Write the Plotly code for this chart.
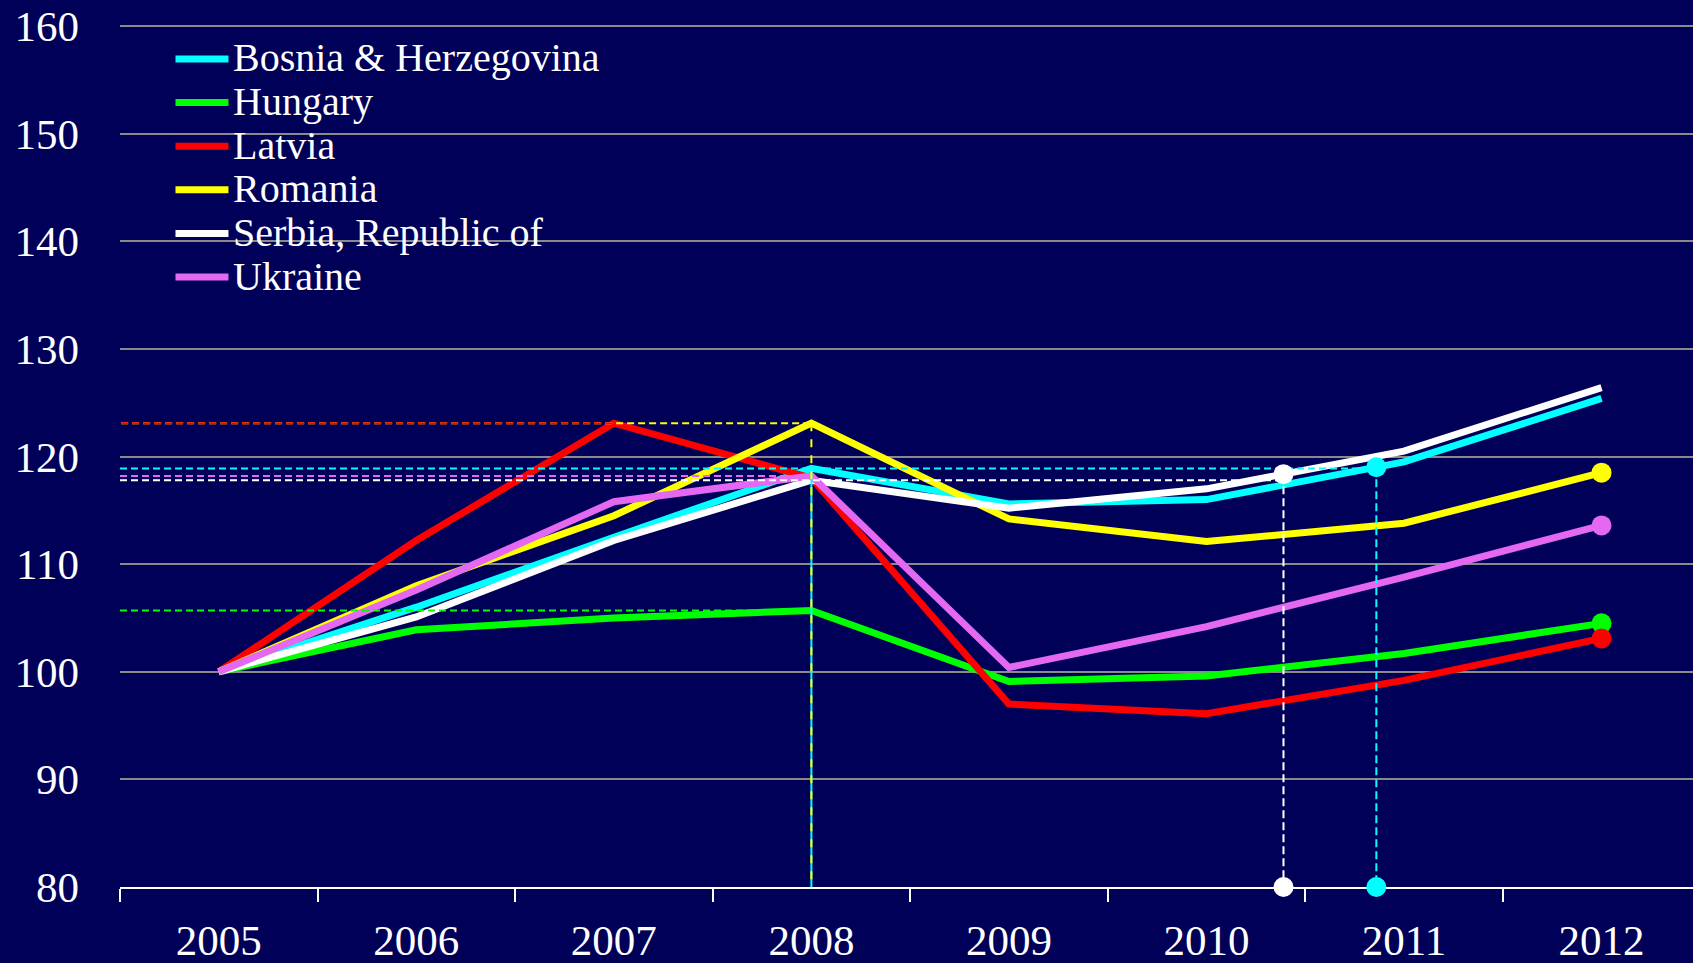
import numpy as np
import plotly.graph_objects as go

# ---- data ----
years = [2005, 2006, 2007, 2008, 2009, 2010, 2011, 2012]
year_labels = ["2005", "2006", "2007", "2008", "2009", "2010", "2011", "2012"]
countries = ["Bosnia & Herzegovina", "Hungary", "Latvia", "Romania", "Serbia, Republic of", "Ukraine"]
bosnia = [100, 106.0, 112.5, 118.9, 115.6, 116.0, 119.5, 125.4]
hungary = [100, 103.9, 105.0, 105.7, 99.1, 99.6, 101.7, 104.5]
latvia = [100, 112.2, 123.1, 118.0, 97.0, 96.1, 99.2, 103.1]
romania = [100, 108.0, 114.5, 123.1, 114.2, 112.1, 113.8, 118.5]
serbia = [100, 105.1, 112.2, 117.8, 115.2, 117.0, 120.5, 126.4]
ukraine = [100, 107.6, 115.8, 118.2, 100.4, 104.2, 108.8, 113.6]
# year at which the series regains its pre-crisis peak (None = not yet)
recovery_year = [2010.86, None, None, None, 2010.39, None]
y_ticks = [80, 90, 100, 110, 120, 130, 140, 150, 160]

series = [bosnia, hungary, latvia, romania, serbia, ukraine]
colors = ["#00FFFF", "#00FF00", "#FF0000", "#FFFF00", "#FFFFFF", "#E468F2"]
end_dot = [False, True, True, True, False, True]

BG = "#000058"
FONT = "Liberation Serif"
W, H = 1693, 963
ML, MR, MT, MB = 119.5, 0, 25, 76
X0 = years[0] - 0.5
px_per_year = 197.6
X1 = X0 + (W - ML - MR) / px_per_year
Y0, Y1 = 80, 160.1

fig = go.Figure()

# main series
for name, vals, col in zip(countries, series, colors):
    fig.add_trace(go.Scatter(
        x=years, y=vals, mode="lines", name=name,
        line=dict(color=col, width=7),
        showlegend=False, cliponaxis=False,
    ))
# end-point dots
for vals, col, dot in zip(series, colors, end_dot):
    if dot:
        fig.add_trace(go.Scatter(
            x=[years[-1]], y=[vals[-1]], mode="markers",
            marker=dict(size=20, color=col, opacity=1, line=dict(width=0)),
            showlegend=False, cliponaxis=False, hoverinfo="skip"))

# horizontal dashed reference lines at pre-crisis peaks
crisis_idx = years.index(2008)
order = [3, 5, 4, 0, 1, 2]
for i in order:
    vals = series[i]
    pre = vals[:crisis_idx + 1]
    peak = max(pre)
    peak_year = years[pre.index(peak)]
    x_end = recovery_year[i] if recovery_year[i] is not None else peak_year
    x_start = X0 - 0.05 if i in (2, 3) else X0
    fig.add_trace(go.Scatter(
        x=[x_start, x_end], y=[peak, peak], mode="lines",
        line=dict(color=colors[i], width=2, dash="7px,4px"),
        showlegend=False, cliponaxis=False, hoverinfo="skip",
    ))

# vertical lines at 2008: cyan solid underneath, yellow dashed on top
fig.add_trace(go.Scatter(
    x=[2008, 2008], y=[bosnia[crisis_idx], Y0], mode="lines",
    line=dict(color=colors[0], width=2), showlegend=False, hoverinfo="skip"))
fig.add_trace(go.Scatter(
    x=[2008, 2008], y=[romania[crisis_idx], Y0], mode="lines",
    line=dict(color=colors[3], width=2, dash="8px,8px"), showlegend=False, hoverinfo="skip"))

# recovery markers
for i, ry in enumerate(recovery_year):
    if ry is None:
        continue
    yv = float(np.interp(ry, years, series[i]))
    fig.add_trace(go.Scatter(
        x=[ry, ry], y=[yv, Y0], mode="lines",
        line=dict(color=colors[i], width=2, dash="8px,4px"),
        showlegend=False, hoverinfo="skip"))
    fig.add_trace(go.Scatter(
        x=[ry, ry], y=[yv, Y0], mode="markers",
        marker=dict(size=20, color=colors[i], opacity=1, line=dict(width=0)),
        showlegend=False, cliponaxis=False, hoverinfo="skip"))

# manual legend
pw = W - ML - MR
ph = H - MT - MB
def px_x(p):
    return (p - ML) / pw
def px_y(p):
    return (H - MB - p) / ph

leg_y = [58, 101.6, 145.2, 188.8, 232.4, 276]
for name, col, ly in zip(countries, colors, leg_y):
    fig.add_shape(type="line", xref="paper", yref="paper",
                  x0=px_x(175), x1=px_x(228), y0=px_y(ly + 1), y1=px_y(ly + 1),
                  line=dict(color=col, width=7))
    fig.add_annotation(xref="paper", yref="paper", x=px_x(231), y=px_y(ly),
                       text=name, showarrow=False, xanchor="left", yanchor="middle",
                       font=dict(family=FONT, size=40, color="white"))

fig.update_layout(
    width=W, height=H, autosize=False,
    paper_bgcolor=BG, plot_bgcolor=BG,
    margin=dict(l=ML, r=MR, t=MT, b=MB, pad=0, autoexpand=False),
    showlegend=False,
    font=dict(family=FONT, color="white"),
    xaxis=dict(
        range=[X0, X1], tickmode="array", tickvals=years, ticktext=year_labels,
        ticks="", showgrid=False, zeroline=False, automargin=False,
        showline=True, linecolor="white", linewidth=2,
        tickfont=dict(family=FONT, size=43, color="white"),
        ticklabelstandoff=14,
        minor=dict(tickmode="array", tickvals=[y - 0.5 for y in years] + [years[-1] + 0.5],
                   ticks="outside", ticklen=13, tickwidth=2, tickcolor="white", showgrid=False),
        layer="below traces",
    ),
    yaxis=dict(
        range=[Y0, Y1], tickmode="array", tickvals=y_ticks,
        ticks="", showgrid=True, gridcolor="#8a8a8a", gridwidth=1.5,
        zeroline=False, showline=False, automargin=False,
        tickfont=dict(family=FONT, size=43, color="white"),
        ticklabelstandoff=40,
    ),
)

fig.write_html(
    "out.html",
    config={"displayModeBar": False},
    post_script="document.body.style.margin='0';document.body.style.padding='0';"
                "document.body.style.background='" + BG + "';",
)
